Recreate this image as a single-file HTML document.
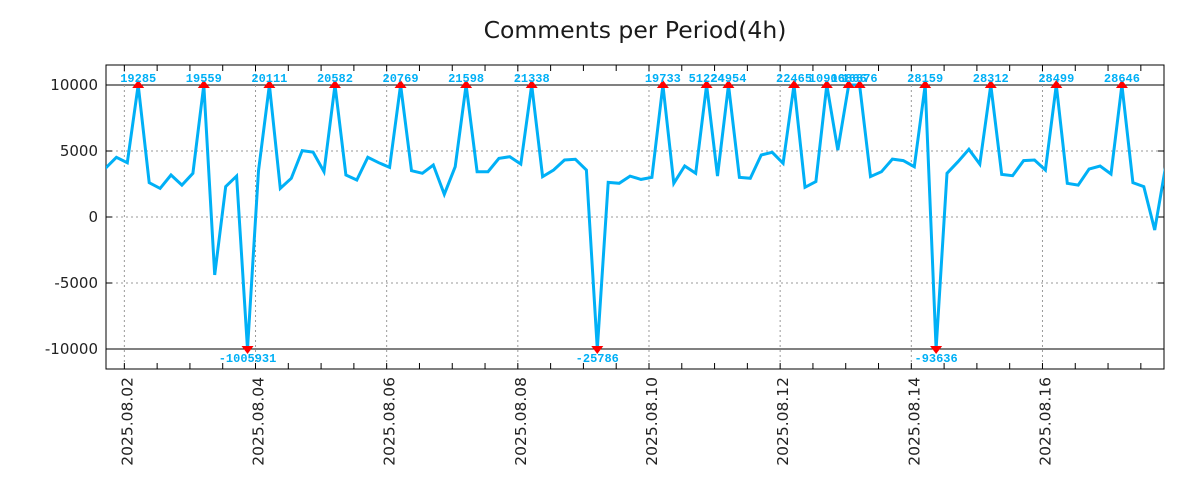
<!DOCTYPE html>
<html><head><meta charset="utf-8"><style>
html,body{margin:0;padding:0;background:#fff;}
svg{display:block;}
</style></head><body>
<svg id="chart" width="1200" height="500" viewBox="0 0 1200 500" xmlns="http://www.w3.org/2000/svg">
<rect width="1200" height="500" fill="#fff"/>
<text x="635" y="38" text-anchor="middle" font-family="DejaVu Sans, sans-serif" font-size="23.5" fill="#1a1a1a">Comments per Period(4h)</text>
<g id="grid"></g>
<g id="axes"></g>
<g id="series"></g>
<g id="marks"></g>
</svg>
<script>
const values = [3690,4520,4110,19285,2600,2170,3180,2420,3310,19559,-4390,2300,3100,-1005931,3500,20111,2170,2930,5030,4920,3430,20582,3180,2800,4520,4110,3760,20769,3510,3310,3940,1720,3810,21598,3430,3430,4440,4570,4010,21338,3060,3560,4320,4370,3560,-25786,2620,2550,3100,2850,3000,19733,2550,3860,3310,51224,3100,24954,3000,2930,4700,4900,4070,22465,2250,2680,10906,5070,16866,16876,3060,3430,4390,4270,3810,28159,-93636,3310,4190,5130,4010,28312,3230,3130,4270,4320,3560,28499,2550,2420,3640,3860,3260,28646,2600,2300,-985,3860];
const yTicks = [10000,5000,0,-5000,-10000];
const xTickLabels = ["2025.08.02","2025.08.04","2025.08.06","2025.08.08","2025.08.10","2025.08.12","2025.08.14","2025.08.16"];
const xTickPeriods = [1.73,13.73,25.73,37.73,49.73,61.73,73.73,85.73];

const L=106,R=1164,T=65,B=369;
const NS="http://www.w3.org/2000/svg";
function X(i){return 105.44+10.93*i;}
function Y(v){return 217-v*0.0132;}
function mk(tag,attrs,parent){const e=document.createElementNS(NS,tag);for(const k in attrs)e.setAttribute(k,attrs[k]);parent.appendChild(e);return e;}
const grid=document.getElementById('grid'),axes=document.getElementById('axes'),series=document.getElementById('series'),marks=document.getElementById('marks');

yTicks.forEach(v=>{
  const y=Y(v);
  const solid=Math.abs(v)===10000;
  const g=mk('line',{x1:L,x2:R,y1:y,y2:y,stroke:solid?'#000':'#999','stroke-width':1,'stroke-dasharray':solid?'none':'2,3'},grid);
  
  
  const t=mk('text',{x:98,y:y+5,'text-anchor':'end','font-family':'DejaVu Sans, sans-serif','font-size':15,fill:'#222'},axes);
  t.textContent=v;
  
  
  mk('line',{x1:L,x2:L+6,y1:y,y2:y,stroke:'#000'},axes);
  mk('line',{x1:R-6,x2:R,y1:y,y2:y,stroke:'#000'},axes);
});
xTickPeriods.forEach((p,k)=>{
  const x=X(p);
  const g=mk('line',{x1:x,x2:x,y1:T,y2:B,stroke:'#999','stroke-width':1,'stroke-dasharray':'2,3'},grid);
  
  
  const t=mk('text',{x:0,y:0,transform:`translate(${x+8},377) rotate(-90)`,'text-anchor':'end','font-family':'DejaVu Sans, sans-serif','font-size':15.5,fill:'#222'},axes);
  t.textContent=xTickLabels[k];
  
  
});
for(let p=-1.27;p<100;p+=3){
  const x=X(p); if(x<L||x>R)continue;
  mk('line',{x1:x,x2:x,y1:B-6,y2:B,stroke:'#000'},axes);
  mk('line',{x1:x,x2:x,y1:T,y2:T+6,stroke:'#000'},axes);
}
const frame=mk('rect',{x:L,y:T,width:R-L,height:B-T,fill:'none',stroke:'#000','stroke-width':1},axes);



const defs=mk('defs',{},document.getElementById('chart'));
const cp=mk('clipPath',{id:'clip'},defs);
mk('rect',{x:L,y:T,width:R-L,height:B-T},cp);
series.setAttribute('clip-path','url(#clip)');
const pts=values.map((v,i)=>X(i).toFixed(1)+','+Y(Math.max(-10000,Math.min(10000,v))).toFixed(1)).join(' ');
const line=mk('polyline',{points:pts,fill:'none',stroke:'#00b0f6','stroke-width':3,'stroke-linejoin':'miter'},series);



values.forEach((v,i)=>{
  if(v<=10000&&v>=-10000)return;
  const x=X(i),top=v>10000;
  const y=Y(top?10000:-10000);
  const tri=mk('polygon',{points:top?`${x-6},${y+3} ${x+6},${y+3} ${x},${y-5}`:`${x-6},${y-3} ${x+6},${y-3} ${x},${y+5}`,fill:'#f00'},marks);
  
  
  const t=mk('text',{x:x,y:top?y-3:y+13,'text-anchor':'middle','font-family':'Liberation Mono, monospace','font-weight':'bold','font-size':12,fill:'#00b0f6'},marks);
  t.textContent=v;
  
  
});
</script>
</body></html>
